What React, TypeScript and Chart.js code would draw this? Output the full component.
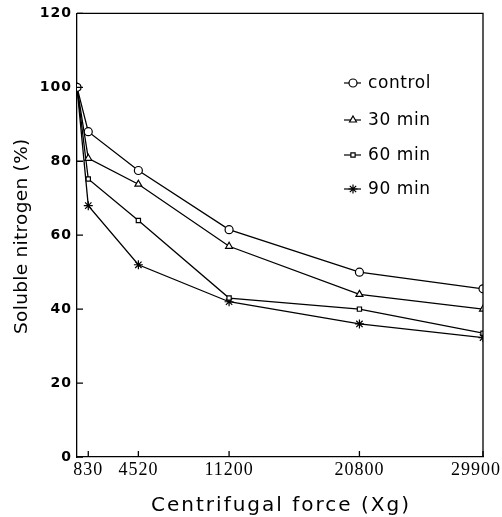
import React, { useEffect, useRef } from 'react';
import { Chart, registerables } from 'chart.js';
import { drawPoint } from 'chart.js/helpers';

Chart.register(...registerables);

const forces = [0, 830, 4520, 11200, 20800, 29900];
const xTickValues = [830, 4520, 11200, 20800, 29900];
const seriesNames = ['control', '30 min', '60 min', '90 min'];
const control = [100, 88, 77.5, 61.5, 50, 45.5];
const min30 = [100, 80.8, 73.8, 57, 44, 40];
const min60 = [100, 75.2, 64, 43, 40, 33.5];
const min90 = [100, 68, 52, 42, 36, 32.3];
const pointStyles = ['circle', 'triangle', 'rect', 'star'];
const pointRadii = [4, 4, 3, 4.5];
const xTitle = 'Centrifugal force (Xg)';
const yTitle = 'Soluble nitrogen (%)';

const seriesValues = [control, min30, min60, min90];

const spacingPlugin = {
  id: 'spacing',
  beforeDraw(chart: any) {
    chart.ctx.letterSpacing = '1px';
  },
};

const framePlugin = {
  id: 'frame',
  afterDraw(chart: any) {
    const { ctx, chartArea, width } = chart;
    const { left, right, top, bottom } = chartArea;
    ctx.save();
    ctx.letterSpacing = '0px';
    ctx.strokeStyle = '#000';
    ctx.lineWidth = 1.3;
    ctx.beginPath();
    ctx.moveTo(left, top);
    ctx.lineTo(right, top);
    ctx.lineTo(right, bottom);
    ctx.stroke();
    // inside ticks
    const xs = chart.scales.x;
    const ys = chart.scales.y;
    ctx.beginPath();
    xTickValues.forEach((v) => {
      const px = xs.getPixelForValue(v);
      ctx.moveTo(px, bottom);
      ctx.lineTo(px, bottom - 6);
    });
    ys.ticks.forEach((t: any) => {
      const py = ys.getPixelForValue(t.value);
      ctx.moveTo(left, py);
      ctx.lineTo(left + 6, py);
    });
    ctx.stroke();

    // x tick labels
    ctx.fillStyle = '#000';
    ctx.font = '18px "Liberation Serif"';
    ctx.letterSpacing = '1px';
    ctx.textBaseline = 'alphabetic';
    xTickValues.forEach((v) => {
      const label = String(v);
      const px = xs.getPixelForValue(v);
      const w = ctx.measureText(label).width;
      let x0 = px - w / 2;
      if (x0 + w > width - 1) x0 = width - 1 - w;
      ctx.textAlign = 'left';
      ctx.fillText(label, x0, bottom + 18);
    });

    // x title
    ctx.font = '20px "DejaVu Sans"';
    ctx.letterSpacing = '2px';
    ctx.textAlign = 'center';
    ctx.fillText(xTitle, (left + right) / 2 + 1, bottom + 54);

    // y title
    ctx.save();
    ctx.font = '18.5px "DejaVu Sans"';
    ctx.letterSpacing = '0.3px';
    ctx.textAlign = 'center';
    ctx.textBaseline = 'middle';
    ctx.translate(22, (top + bottom) / 2 + 1);
    ctx.rotate(-Math.PI / 2);
    ctx.fillText(yTitle, 0, 0);
    ctx.restore();

    // legend
    const legendX = 353;
    const legendYs = [83, 120, 155, 189];
    ctx.font = '17px "DejaVu Sans"';
    ctx.letterSpacing = '0.6px';
    ctx.textBaseline = 'middle';
    ctx.textAlign = 'left';
    seriesNames.forEach((name, i) => {
      const y = legendYs[i];
      ctx.strokeStyle = '#000';
      ctx.lineWidth = 1.2;
      ctx.beginPath();
      ctx.moveTo(legendX - 9, y);
      ctx.lineTo(legendX + 8, y);
      ctx.stroke();
      ctx.fillStyle = '#fff';
      drawPoint(ctx, { pointStyle: pointStyles[i], radius: pointRadii[i], rotation: 0, borderWidth: 1.2 } as any, legendX, y);
      ctx.fillStyle = '#000';
      ctx.fillText(name, legendX + 15, y + 1);
    });
    ctx.restore();
  },
};

export default function App() {
  const ref = useRef<HTMLCanvasElement | null>(null);
  useEffect(() => {
    document.body.style.margin = '0';
    document.body.style.background = '#fff';
    if (!ref.current) return;
    const datasets = seriesNames.map((name, i) => ({
      label: name,
      data: forces.map((f, j) => ({ x: f, y: seriesValues[i][j] })),
      showLine: true,
      borderColor: '#000',
      borderWidth: 1.3,
      pointStyle: pointStyles[i],
      pointRadius: pointRadii[i],
      pointBorderWidth: 1.2,
      pointBorderColor: '#000',
      pointBackgroundColor: '#fff',
      tension: 0,
    }));
    const chart = new Chart(ref.current, {
      type: 'scatter',
      data: { datasets },
      options: {
        animation: false,
        responsive: false,
        devicePixelRatio: 1,
        layout: { padding: { top: 13, right: 19, left: 0, bottom: 0 } },
        plugins: { legend: { display: false }, tooltip: { enabled: false } },
        scales: {
          x: {
            type: 'linear',
            min: 0,
            max: 29900,
            afterBuildTicks: (scale: any) => {
              scale.ticks = xTickValues.map((v) => ({ value: v }));
            },
            afterFit: (scale: any) => {
              scale.height = 60;
              scale.paddingLeft = 0;
              scale.paddingRight = 0;
            },
            grid: { display: true, drawOnChartArea: false, drawTicks: false },
            border: { display: true, color: '#000', width: 1.3 },
            ticks: { display: false },
            title: { display: false, text: xTitle },
          },
          y: {
            min: 0,
            max: 120,
            afterFit: (scale: any) => {
              scale.width = 77;
            },
            grid: { display: true, drawOnChartArea: false, drawTicks: false },
            border: { display: true, color: '#000', width: 1.3 },
            ticks: {
              stepSize: 20,
              color: '#000',
              padding: 5,
              font: { family: '"DejaVu Sans"', size: 14, weight: 'bold' },
            },
            title: { display: false, text: yTitle },
          },
        },
      } as any,
      plugins: [spacingPlugin, framePlugin],
    });
    return () => chart.destroy();
  }, []);
  return (
    <div style={{ width: 502, height: 517, background: '#fff' }}>
      <canvas ref={ref} width={502} height={517} />
    </div>
  );
}
